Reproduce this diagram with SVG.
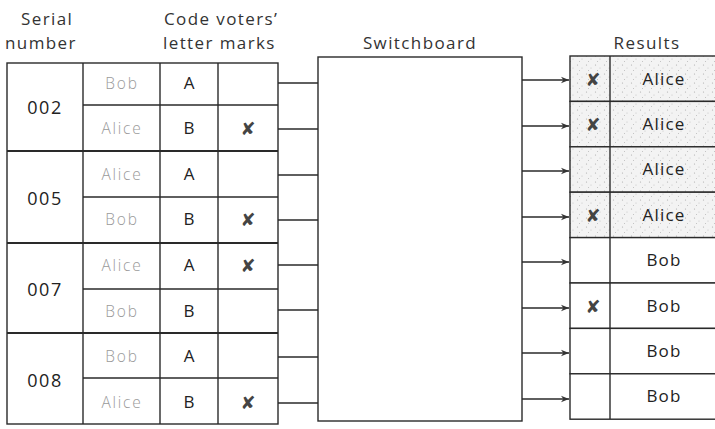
<svg xmlns="http://www.w3.org/2000/svg" width="715" height="429" viewBox="0 0 715 429">
<style>
.hdr{font-family:"Open Sans","Noto Sans",sans-serif;font-size:17px;fill:#333;letter-spacing:1.4px}
.ser{font-family:"Open Sans","Noto Sans",sans-serif;font-size:18px;fill:#222;text-anchor:middle;letter-spacing:1.5px}
.nm{font-family:"Open Sans","Noto Sans",sans-serif;font-size:15.5px;fill:#9a9a9a;text-anchor:middle;font-weight:300;letter-spacing:1.8px}
.cd{font-family:"Open Sans","Noto Sans",sans-serif;font-size:17px;fill:#222;text-anchor:middle}
.res{font-family:"Open Sans","Noto Sans",sans-serif;font-size:17px;fill:#222;text-anchor:middle;letter-spacing:1.2px}
.mk{font-family:"DejaVu Sans",sans-serif;font-size:18px;fill:#444;text-anchor:middle}
.ln{stroke:#2a2a2a;stroke-width:1.4;fill:none}
.thk{stroke:#2a2a2a;stroke-width:2;fill:none}
.cell{fill:#fff;stroke:#2a2a2a;stroke-width:1.4}
.shade{fill:url(#stip);stroke:#2a2a2a;stroke-width:1.4}
</style>
<defs>
<pattern id="stip" width="9" height="9" patternUnits="userSpaceOnUse">
<rect width="9" height="9" fill="#f3f3f3"/>
<circle cx="1.5" cy="2" r="0.6" fill="#aaa"/>
<circle cx="6" cy="5" r="0.5" fill="#bbb"/>
<circle cx="3.5" cy="7.5" r="0.5" fill="#b5b5b5"/>
</pattern>
<marker id="arr" viewBox="0 0 10 10" refX="10" refY="5" markerWidth="8" markerHeight="8" orient="auto" markerUnits="userSpaceOnUse">
<path d="M0,1 L10,5 L0,9 L3,5 Z" fill="#333"/>
</marker>
</defs>

<g id="headers">
<text class="hdr" x="21" y="25">Serial</text>
<text class="hdr" x="5" y="49">number</text>
<text class="hdr" x="164" y="25">Code voters’</text>
<text class="hdr" x="163" y="49">letter  marks</text>
<text class="hdr" x="420" y="49" text-anchor="middle">Switchboard</text>
<text class="hdr" x="647" y="49" text-anchor="middle">Results</text>
</g>

<g id="ballot-table">
<rect class="cell" x="7" y="63" width="271" height="361"/>
<line class="ln" x1="83" y1="63" x2="83" y2="424"/>
<line class="ln" x1="160" y1="63" x2="160" y2="424"/>
<line class="ln" x1="218" y1="63" x2="218" y2="424"/>
<line class="thk" x1="7" y1="151" x2="278" y2="151"/>
<line class="thk" x1="7" y1="243" x2="278" y2="243"/>
<line class="thk" x1="7" y1="333" x2="278" y2="333"/>
<line class="ln" x1="83" y1="105" x2="278" y2="105"/>
<line class="ln" x1="83" y1="197" x2="278" y2="197"/>
<line class="ln" x1="83" y1="289" x2="278" y2="289"/>
<line class="ln" x1="83" y1="378" x2="278" y2="378"/>
</g>

<g id="ballot-002">
<text class="ser" x="45" y="114">002</text>
<text class="nm" x="122" y="89">Bob</text>
<text class="cd" x="189" y="89">A</text>
<text class="nm" x="122" y="134">Alice</text>
<text class="cd" x="189" y="134">B</text>
<text class="mk" x="248" y="135">✘</text>
</g>
<g id="ballot-005">
<text class="ser" x="45" y="205">005</text>
<text class="nm" x="122" y="180">Alice</text>
<text class="cd" x="189" y="180">A</text>
<text class="nm" x="122" y="225">Bob</text>
<text class="cd" x="189" y="225">B</text>
<text class="mk" x="248" y="226">✘</text>
</g>
<g id="ballot-007">
<text class="ser" x="45" y="296">007</text>
<text class="nm" x="122" y="271">Alice</text>
<text class="cd" x="189" y="271">A</text>
<text class="mk" x="248" y="272">✘</text>
<text class="nm" x="122" y="317">Bob</text>
<text class="cd" x="189" y="317">B</text>
</g>
<g id="ballot-008">
<text class="ser" x="45" y="387">008</text>
<text class="nm" x="122" y="362">Bob</text>
<text class="cd" x="189" y="362">A</text>
<text class="nm" x="122" y="408">Alice</text>
<text class="cd" x="189" y="408">B</text>
<text class="mk" x="248" y="409">✘</text>
</g>

<g id="switchboard">
<rect class="cell" x="318" y="57" width="204" height="364"/>
</g>

<g id="results">
<rect class="shade" x="570" y="56" width="146" height="45.4"/>
<rect class="shade" x="570" y="101.4" width="146" height="45.4"/>
<rect class="shade" x="570" y="146.8" width="146" height="45.4"/>
<rect class="shade" x="570" y="192.2" width="146" height="45.4"/>
<rect class="cell" x="570" y="237.6" width="146" height="45.4"/>
<rect class="cell" x="570" y="283" width="146" height="45.4"/>
<rect class="cell" x="570" y="328.4" width="146" height="45.4"/>
<rect class="cell" x="570" y="373.8" width="146" height="45.4"/>
<line class="ln" x1="610" y1="56" x2="610" y2="419"/>
<text class="res" x="664" y="85">Alice</text>
<text class="res" x="664" y="130">Alice</text>
<text class="res" x="664" y="175">Alice</text>
<text class="res" x="664" y="221">Alice</text>
<text class="res" x="664" y="266">Bob</text>
<text class="res" x="664" y="312">Bob</text>
<text class="res" x="664" y="357">Bob</text>
<text class="res" x="664" y="402">Bob</text>
<text class="mk" x="593" y="86">✘</text>
<text class="mk" x="593" y="131">✘</text>
<text class="mk" x="593" y="222">✘</text>
<text class="mk" x="593" y="313">✘</text>
</g>

<g id="connectors">
<line class="ln" x1="278" y1="83" x2="318" y2="83"/>
<line class="ln" x1="278" y1="129" x2="318" y2="129"/>
<line class="ln" x1="278" y1="175" x2="318" y2="175"/>
<line class="ln" x1="278" y1="220" x2="318" y2="220"/>
<line class="ln" x1="278" y1="265" x2="318" y2="265"/>
<line class="ln" x1="278" y1="310" x2="318" y2="310"/>
<line class="ln" x1="278" y1="357" x2="318" y2="357"/>
<line class="ln" x1="278" y1="403" x2="318" y2="403"/>
<line class="ln" x1="522" y1="80" x2="569" y2="80" marker-end="url(#arr)"/>
<line class="ln" x1="522" y1="126" x2="569" y2="126" marker-end="url(#arr)"/>
<line class="ln" x1="522" y1="171" x2="569" y2="171" marker-end="url(#arr)"/>
<line class="ln" x1="522" y1="217" x2="569" y2="217" marker-end="url(#arr)"/>
<line class="ln" x1="522" y1="262" x2="569" y2="262" marker-end="url(#arr)"/>
<line class="ln" x1="522" y1="308" x2="569" y2="308" marker-end="url(#arr)"/>
<line class="ln" x1="522" y1="353" x2="569" y2="353" marker-end="url(#arr)"/>
<line class="ln" x1="522" y1="399" x2="569" y2="399" marker-end="url(#arr)"/>
</g>
</svg>
